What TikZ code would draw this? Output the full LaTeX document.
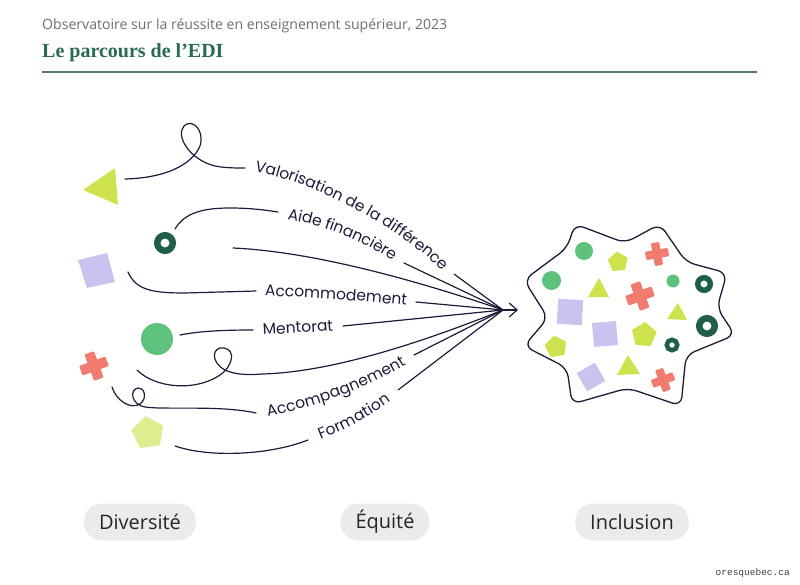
\documentclass[tikz,border=0pt]{standalone}
\usepackage{fontspec}
\setmainfont{Open Sans}
\newfontfamily\labelfont{Poppins}
\newfontfamily\titlefont{Liberation Serif}
\newfontfamily\webfont{Liberation Mono}
\usetikzlibrary{
    arrows.meta,
    decorations.text,
    shapes.geometric
}

\definecolor{ink}{HTML}{1E1B3A}
\definecolor{lime}{HTML}{CDE24C}
\definecolor{palelime}{HTML}{DCEE8F}
\definecolor{mint}{HTML}{5EC27D}
\definecolor{forest}{HTML}{1F5F48}
\definecolor{lilac}{HTML}{C8C3EF}
\definecolor{coral}{HTML}{F27B70}
\definecolor{pillgray}{HTML}{EBEBEB}
\definecolor{titlegreen}{HTML}{2A6A53}
\definecolor{headgray}{HTML}{6E6E6E}

\tikzset{
    croix/.pic={
        \fill[coral, rounded corners=1pt] (-4,-11) rectangle (4,11);
        \fill[coral, rounded corners=1pt] (-11,-4) rectangle (11,4);
    }
}

\begin{document}
\begin{tikzpicture}[x=1pt, y=-1pt,
    trail/.style={draw=ink, line width=1.2pt, line cap=round},
    lab/.style={decorate, decoration={text along path, text align=center,
        raise=-4.3pt, text color=ink,
        text={|\labelfont\fontsize{15.5}{18}\selectfont|#1}}},
    penta/.style={regular polygon, regular polygon sides=5, inner sep=0pt},
    pill/.style={fill=pillgray, rounded corners=18pt, minimum height=37pt,
        inner xsep=15pt, font=\fontsize{20}{23}\selectfont, text=black!85}
]
\useasboundingbox (0,0) rectangle (800,585);

% header
\node[anchor=base west, inner sep=0pt, text=headgray,
    font=\fontsize{14.1}{16}\selectfont] (obs) at (42,30)
    {Observatoire sur la réussite en enseignement supérieur, 2023};
\node[anchor=base west, inner sep=0pt, text=titlegreen,
    font=\titlefont\bfseries\fontsize{20}{23}\selectfont] (titre) at (42,58)
    {Le parcours de l’EDI};
\draw[titlegreen!85, line width=1.5pt] (42,72) -- (757,72);

% shapes on the left
\fill[lime, rounded corners=1pt] (83,190) -- (115,168) -- (118,205) -- cycle;
\draw[forest, line width=6.5pt] (165,243) circle (7.75);
\fill[lilac] (78,260) -- (107,253) -- (115,282) -- (87,288) -- cycle;
\fill[mint] (157,339) circle (16);
\pic[rotate=20, scale=1.27] at (94,366) {croix};
\node[penta, fill=palelime, minimum size=34pt, rotate=8] (p0) at (148,433) {};

% the paths
\coordinate (hub) at (503,310);
\coordinate (tip) at (518,310);

\draw[trail] (125,179) .. controls (165,178) and (192,165) .. (200,146)
    .. controls (205,130) and (192,118) .. (184,126)
    .. controls (175,136) and (190,160) .. (215,166)
    .. controls (225,168) and (235,168) .. (245,168);
\path[lab={Valorisation de la différence}] (250,166) .. controls (318,178) and (398,222) .. (450,271);
\draw[trail] (454,274) -- (hub);

\draw[trail] (175,229) .. controls (185,212) and (205,208) .. (230,208)
    .. controls (250,208) and (265,210) .. (278,212);
\path[lab={Aide financière}] (282,214) .. controls (325,220) and (368,238) .. (400,261);
\draw[trail] (404,263) -- (hub);

\draw[trail] (233,248) .. controls (320,252) and (430,285) .. (hub);

\draw[trail] (128,272) .. controls (136,290) and (152,293) .. (185,293) -- (256,291);
\path[lab={Accommodement}] (258,291) .. controls (310,293) and (370,297) .. (414,302);
\draw[trail] (416,302) -- (hub);

\draw[trail] (180,335) .. controls (200,331) and (225,330) .. (253,330);
\path[lab={Mentorat}] (256,331) -- (340,326);
\draw[trail] (343,326) -- (hub);

\draw[trail] (137,370) .. controls (155,388) and (195,392) .. (220,375)
    .. controls (233,366) and (236,350) .. (224,348)
    .. controls (212,346) and (210,362) .. (225,370)
    .. controls (235,375) and (250,375) .. (262,374)
    .. controls (340,372) and (440,335) .. (hub);

\draw[trail] (112,387) .. controls (116,400) and (130,410) .. (140,404)
    .. controls (148,398) and (144,387) .. (138,388)
    .. controls (130,389) and (130,404) .. (145,407)
    .. controls (165,410) and (220,405) .. (256,413);
\path[lab={Accompagnement}] (258,414) .. controls (310,405) and (365,385) .. (412,356);
\draw[trail] (414,355) -- (hub);

\draw[trail] (175,446) .. controls (210,458) and (270,455) .. (308,440);
\path[lab={Formation}] (310,439) .. controls (340,428) and (370,412) .. (396,392);
\draw[trail] (398,390) -- (hub);

\draw[trail, -{Straight Barb[length=8pt, width=14pt]}] (hub) -- (tip);

% the blob
\draw[ink, line width=1.3pt, rounded corners=9pt] (575,224) -- (625,243) -- (660,224)
    -- (686,262) -- (727,273) -- (717,308) -- (735,335) -- (686,355) -- (681,406)
    -- (628,388) -- (572,404) -- (567,368) -- (524,346) -- (548,318) -- (524,280)
    -- (567,248) -- cycle;

\fill[mint] (584,251) circle (9);
\fill[mint] (551.5,280.5) circle (9.5);
\fill[mint] (673,281) circle (6.5);
\draw[forest, line width=5.5pt] (704,284) circle (6.25);
\draw[forest, line width=6.5pt] (707,326) circle (7.75);
\draw[forest, line width=4.5pt] (672,345) circle (5.25);
\node[penta, fill=lime, minimum size=21pt, rotate=5] (p1) at (618,262) {};
\node[penta, fill=lime, minimum size=26pt, rotate=-5] (p2) at (644,335) {};
\node[penta, fill=lime, minimum size=23pt, rotate=10] (p3) at (556,347) {};
\fill[lime] (599,278) -- (588,297) -- (609,297) -- cycle;
\fill[lime] (678,303) -- (667,319) -- (687,320) -- cycle;
\fill[lime] (628,355) -- (617,375) -- (640,374) -- cycle;
\fill[lilac, rotate around={-3:(570,312)}] (557.5,299.5) rectangle (582.5,324.5);
\fill[lilac, rotate around={5:(605,334)}] (593,322) rectangle (617,346);
\fill[lilac, rotate around={30:(591,377)}] (580.5,366.5) rectangle (601.5,387.5);
\pic[rotate=10, scale=1.05] at (657,254) {croix};
\pic[rotate=20, scale=1.27] at (640,296) {croix};
\pic[rotate=20, scale=1.05] at (663,380) {croix};

% bottom labels
\node[pill] (div) at (140,522) {Diversité};
\node[pill] (equ) at (385,522) {Équité};
\node[pill] (inc) at (632,522) {Inclusion};

\node[anchor=base east, inner sep=0pt, text=black!75,
    font=\webfont\fontsize{9.5}{11}\selectfont] (site) at (790,575) {oresquebec.ca};
\end{tikzpicture}
\end{document}
